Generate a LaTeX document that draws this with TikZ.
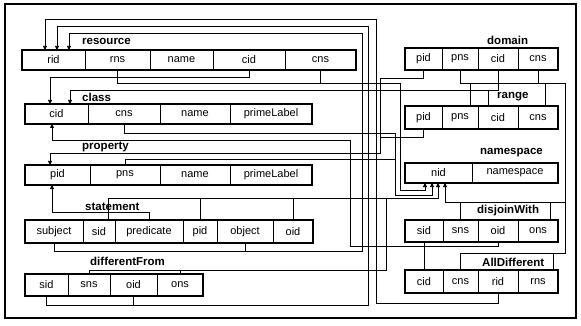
\documentclass[tikz,border=0pt]{standalone}
\usepackage{fontspec}
\setmainfont{Liberation Sans}
\usetikzlibrary{arrows.meta}
\newcommand\tcell[6]{\node[cellst, minimum width={(#3)-(#2)}, minimum height={(#5)-(#4)}] (#1) at ({(#2+#3)/2},{(#4+#5)/2}) {#6};}
\begin{document}
\begin{tikzpicture}[x=1pt,y=-1pt,
 cellst/.style={draw, line width=0.6pt, inner sep=0pt, outer sep=0pt, font=\fontsize{11}{12}\selectfont},
 tbl/.style={draw, line width=2.4pt},
 lbl/.style={font=\bfseries\fontsize{11.5}{12}\selectfont, inner sep=0pt, anchor=west},
 fk/.style={-{Triangle[length=4pt,width=4pt]}, line width=0.75pt},
 ln/.style={line width=0.75pt}]
\useasboundingbox (0,0) rectangle (581,326);
\fill[white] (0,0) rectangle (581,326);
\draw[line width=2.4pt] (5,4) rectangle (576,318);

% resource
\tcell{r-rid}{22}{85}{50}{70}{rid}
\tcell{r-rns}{85}{150}{50}{70}{rns}
\tcell{r-name}{150}{213}{50}{70}{name}
\tcell{r-cid}{213}{285}{50}{70}{cid}
\tcell{r-cns}{285}{356}{50}{70}{cns}
\draw[tbl] (r-rid.north west) rectangle (r-cns.south east);
\node[lbl] (l-res) at (82,41) {resource};
% class
\tcell{c-cid}{25}{88}{104}{124}{cid}
\tcell{c-cns}{88}{160}{104}{124}{cns}
\tcell{c-name}{160}{230}{104}{124}{name}
\tcell{c-pl}{230}{312}{104}{124}{primeLabel}
\draw[tbl] (c-cid.north west) rectangle (c-pl.south east);
\node[lbl] (l-cls) at (82,97) {class};
% property
\tcell{p-pid}{25}{90}{165}{185}{pid}
\tcell{p-pns}{90}{160}{165}{185}{pns}
\tcell{p-name}{160}{230}{165}{185}{name}
\tcell{p-pl}{230}{312}{165}{185}{primeLabel}
\draw[tbl] (p-pid.north west) rectangle (p-pl.south east);
\node[lbl] (l-prop) at (82,147) {property};
% statement
\tcell{st-subject}{25}{83}{220}{243}{subject}
\tcell{st-sid}{83}{115}{220}{243}{sid}
\tcell{st-predicate}{115}{183}{220}{243}{predicate}
\tcell{st-pid}{183}{217}{220}{243}{pid}
\tcell{st-object}{217}{273}{220}{243}{object}
\tcell{st-oid}{273}{313}{220}{243}{oid}
\draw[tbl] (st-subject.north west) rectangle (st-oid.south east);
\node[lbl] (l-st) at (85,207) {statement};
% differentFrom
\tcell{df-sid}{25}{68}{274}{296}{sid}
\tcell{df-sns}{68}{110}{274}{296}{sns}
\tcell{df-oid}{110}{157}{274}{296}{oid}
\tcell{df-ons}{157}{203}{274}{296}{ons}
\draw[tbl] (df-sid.north west) rectangle (df-ons.south east);
\node[lbl] (l-df) at (90,261) {differentFrom};
% domain
\tcell{d-pid}{405}{442}{48}{70}{pid}
\tcell{d-pns}{442}{478}{48}{70}{pns}
\tcell{d-cid}{478}{518}{48}{70}{cid}
\tcell{d-cns}{518}{558}{48}{70}{cns}
\draw[tbl] (d-pid.north west) rectangle (d-cns.south east);
\node[lbl] (l-dom) at (487,40) {domain};
% range
\tcell{rg-pid}{405}{442}{106}{129}{pid}
\tcell{rg-pns}{442}{478}{106}{129}{pns}
\tcell{rg-cid}{478}{518}{106}{129}{cid}
\tcell{rg-cns}{518}{558}{106}{129}{cns}
\draw[tbl] (rg-pid.north west) rectangle (rg-cns.south east);
\node[lbl] (l-rg) at (497,97) {range};
% namespace
\tcell{ns-nid}{405}{472}{163}{183}{nid}
\tcell{ns-ns}{472}{558}{163}{183}{namespace}
\draw[tbl] (ns-nid.north west) rectangle (ns-ns.south east);
\node[lbl] (l-ns) at (480,153) {namespace};
% disjoinWith
\tcell{dj-sid}{405}{443}{220}{242}{sid}
\tcell{dj-sns}{443}{478}{220}{242}{sns}
\tcell{dj-oid}{478}{518}{220}{242}{oid}
\tcell{dj-ons}{518}{558}{220}{242}{ons}
\draw[tbl] (dj-sid.north west) rectangle (dj-ons.south east);
\node[lbl] (l-dj) at (477,211) {disjoinWith};
% AllDifferent
\tcell{ad-cid}{405}{443}{270}{293}{cid}
\tcell{ad-cns}{443}{478}{270}{293}{cns}
\tcell{ad-rid}{478}{518}{270}{293}{rid}
\tcell{ad-rns}{518}{558}{270}{293}{rns}
\draw[tbl] (ad-cid.north west) rectangle (ad-rns.south east);
\node[lbl] (l-ad) at (482,262) {AllDifferent};

% ---- references to resource.rid
\draw[fk] (ad-rid.south) -- ++(0,10) -| (376,19) -| ([xshift=-8.5pt]r-rid.north);
\draw[fk] (df-oid.south) -- ++(0,9) -| (368,26) -| ([xshift=3.5pt]r-rid.north);
\draw[ln] (df-sid.south) -- ++(0,9) -| (df-oid.south);
\draw[fk] (st-object.south) -- ++(0,8) -| (362,33) -| ([xshift=15.5pt]r-rid.north);
\draw[ln] (st-subject.south) -- ++(0,8) -| (st-object.south);
% ---- references to class.cid
\draw[fk] (r-cid.south) -- ++(0,7) -| ([xshift=-6.5pt]c-cid.north);
\draw[fk] (d-cid.south) -- ++(0,20) -| ([xshift=13.5pt]c-cid.north);
\draw[ln] ([xshift=-10pt]rg-cid.north) -- ++(0,-16);
\draw[fk] (ad-cid.north) -- ++(0,-24) -| (350,140) -| ([xshift=-4.5pt]c-cid.south);
\draw[ln] (dj-sid.south) -- ++(0,4) -| (dj-oid.south);
% ---- references to property.pid
\draw[fk] (d-pid.south) -- ++(0,8) -| (380,153) -| ([xshift=-7.5pt]p-pid.north);
\draw[ln] (rg-pid.south) |- (380,137);
\draw[fk] (st-predicate.north) -- ++(0,-8) -| ([xshift=-5.5pt]p-pid.south);
% ---- references to namespace.nid
\draw[fk] (r-rns.south) |- (400,83) |- (425,190) -- ([xshift=-13.5pt]ns-nid.south);
\draw[ln] (r-cns.south) -- ++(0,13);
\draw[fk] (c-cns.south) |- (395,133) |- (432,195) -- ([xshift=-6.5pt]ns-nid.south);
\draw[ln] (p-pns.north) |- (395,159);
\draw[fk] ([xshift=9pt]st-sid.north) |- (438,198) -- ([xshift=-0.5pt]ns-nid.south);
\draw[ln] (st-pid.north) -- ++(0,-22);
\draw[ln] (st-oid.north) -- ++(0,-22);
\draw[ln] (df-sns.north) |- (386,270) -- (386,198);
\draw[ln] (df-ons.north) -- ++(0,-4);
\draw[fk] (d-pns.south) |- (565,83) |- (445,202) -- ([xshift=6.5pt]ns-nid.south);
\draw[ln] (d-cns.south) -- ++(0,13);
\draw[ln] ([xshift=10pt]rg-pns.north) -- ++(0,-23);
\draw[ln] ([xshift=7pt]rg-cns.north) -- ++(0,-23);
\draw[ln] (dj-sns.north) -- ++(0,-18);
\draw[ln] ([xshift=12pt]dj-ons.north) -- ++(0,-18);
\draw[ln] (ad-cns.north) |- (565,253) -- (565,202);
\draw[ln] ([xshift=15pt]ad-rns.north) -- ++(0,-17);
\end{tikzpicture}
\end{document}
